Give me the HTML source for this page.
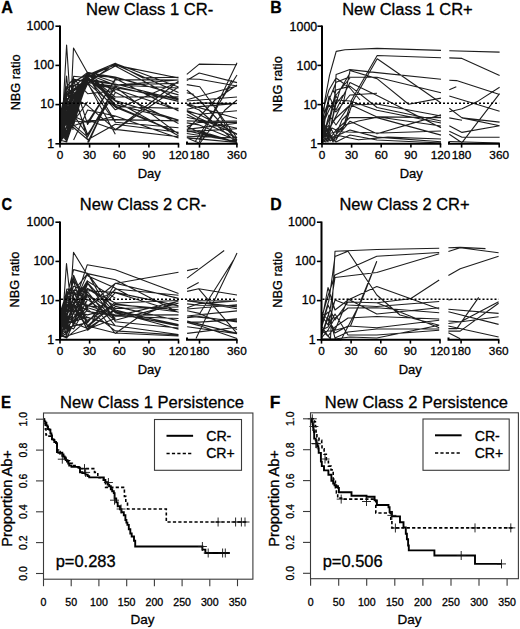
<!DOCTYPE html>
<html><head><meta charset="utf-8"><style>
html,body{margin:0;padding:0;background:#fff;overflow:hidden;}
svg{display:block;}
text{font-family:"Liberation Sans", sans-serif;stroke:#000;stroke-width:0.3px;}
</style></head><body>
<svg width="520" height="629" viewBox="0 0 520 629">
<rect width="520" height="629" fill="#fff"/>
<path d="M60.5,126.0 L66.8,138.6 L73.6,103.9 L87.6,74.2 L115.3,85.0 L178.5,83.2 M60.5,121.4 L73.6,114.5 L87.6,83.8 L115.3,122.2 L178.5,127.7 M60.5,112.5 L66.8,88.5 L87.6,72.4 L115.3,78.4 L178.5,111.0 M60.5,131.8 L66.8,123.4 L73.6,90.9 L87.6,139.8 L115.3,124.2 L178.5,132.2 M60.5,121.0 L73.6,97.8 L87.6,105.6 L115.3,129.4 L178.5,136.7 M60.5,140.2 L66.8,141.9 L73.6,79.2 L87.6,81.3 L115.3,66.1 L178.5,99.8 M60.5,135.5 L87.6,72.7 L115.3,104.6 L178.5,120.2 M60.5,117.9 L66.8,92.6 L73.6,81.6 L87.6,74.6 L115.3,97.0 L178.5,96.9 M60.5,139.4 L73.6,123.7 L87.6,73.2 L115.3,105.9 L178.5,132.9 M60.5,122.2 L87.6,79.0 L115.3,84.0 L178.5,99.9 M60.5,141.7 L66.8,118.3 L73.6,85.4 L87.6,82.9 L115.3,107.2 L178.5,133.1 M60.5,141.2 L73.6,125.3 L87.6,77.1 L115.3,64.4 L178.5,92.6 M60.5,133.8 L73.6,109.0 L87.6,74.1 L115.3,100.5 L178.5,120.1 M60.5,138.4 L66.8,101.3 L73.6,86.6 L87.6,75.2 L115.3,65.1 L178.5,78.0 M60.5,129.7 L73.6,125.8 L87.6,120.8 L115.3,119.6 L178.5,120.9 M60.5,112.6 L66.8,125.7 L73.6,76.2 L87.6,77.8 L115.3,109.8 L178.5,81.9 M60.5,128.9 L66.8,137.2 L73.6,115.1 L87.6,135.2 L115.3,87.0 L178.5,134.1 M60.5,124.9 L66.8,135.1 L73.6,110.6 L87.6,79.0 L115.3,101.0 L178.5,135.7 M60.5,139.3 L66.8,107.5 L73.6,108.1 L87.6,82.1 L115.3,89.3 L178.5,110.3 M60.5,126.9 L73.6,103.3 L87.6,83.0 L115.3,63.4 L178.5,87.1 M60.5,118.3 L73.6,112.6 L87.6,82.7 L115.3,86.3 L178.5,101.4 M60.5,137.0 L66.8,136.1 L73.6,108.2 L87.6,73.6 L115.3,92.3 L178.5,123.6 M60.5,141.5 L87.6,75.3 L115.3,77.5 L178.5,94.8 M60.5,121.8 L66.8,142.0 L73.6,79.3 L87.6,82.5 L115.3,87.8 L178.5,98.6 M60.5,136.5 L87.6,72.3 L115.3,106.8 L178.5,108.4 M60.5,131.5 L66.8,121.5 L73.6,121.0 L87.6,122.3 L115.3,79.6 L178.5,80.0 M60.5,126.6 L66.8,95.4 L87.6,80.4 L115.3,84.5 M60.5,135.4 L66.8,130.9 L73.6,80.0 L87.6,124.5 L115.3,78.9 M60.5,131.4 L66.8,106.9 L73.6,125.1 L87.6,136.9 L115.3,85.8 M60.5,118.4 L66.8,132.5 L73.6,115.9 L87.6,82.8 L115.3,134.2 M60.5,128.6 L66.8,103.6 L73.6,123.8 L87.6,73.0 L115.3,82.3 M60.5,135.8 L66.8,86.6 L73.6,78.7 L87.6,93.7 L115.3,90.6 M60.5,116.4 L73.6,116.2 L87.6,122.6 L115.3,116.2 M60.5,141.4 L87.6,75.5 L115.3,121.6 M60.5,128.2 L66.8,117.5 L73.6,96.7 L87.6,134.4 L115.3,92.8 M60.5,142.0 L66.8,118.2 L87.6,78.0 L115.3,99.0 M60.5,142.1 L66.8,108.2 L73.6,107.1 L87.6,80.3 M60.5,124.8 L66.8,138.6 L87.6,73.5 M60.5,139.9 L66.8,103.4 L87.6,83.1 M60.5,112.7 L87.6,75.9 M60.5,115.3 L66.8,92.1 L73.6,89.3 L87.6,78.4 M60.5,124.8 L66.8,94.3 L87.6,79.7 M60.5,131.0 L66.8,98.5 L73.6,121.2 L87.6,101.7 M60.5,118.8 L66.8,136.5 L87.6,80.7 M60.5,137.8 L66.8,130.8 L87.6,80.2 M60.5,133.2 L66.8,141.2 L87.6,81.1 M60.5,117.9 L87.6,78.6 M60.5,116.5 L87.6,139.5 M60.5,121.4 L66.8,116.9 L73.6,95.6 L87.6,81.2 M60.5,127.5 L66.8,105.7 L73.6,96.9 L87.6,77.2 M60.5,133.8 L66.8,95.3 L73.6,101.1 L87.6,82.1 M60.5,124.2 L66.8,105.4 L73.6,102.0 L87.6,76.9 M60.5,124.5 L66.8,98.8 L73.6,96.8 L87.6,72.2 M60.5,140.5 L66.8,113.4 L73.6,101.2 L87.6,82.3 M60.5,134.5 L66.8,104.3 L73.6,98.8 L87.6,78.1 M60.5,142.6 L66.8,113.5 L73.6,90.9 L87.6,82.9 M60.5,137.1 L66.8,112.9 L73.6,103.7 L87.6,76.9 M60.5,140.6 L66.8,115.2 L73.6,101.0 L87.6,81.2 M60.5,140.0 L63.5,100.0 L66.6,45.0 L69.9,95.0 L73.0,130.0 M60.5,138.0 L70.0,120.0 L73.5,48.0 L87.3,72.5 L115.3,77.0 L178.5,95.0 M60.5,142.0 L66.6,76.0 L70.0,110.0 M73.6,120.0 L87.6,75.0 L115.3,63.3 L143.0,77.9 L178.5,77.2 M87.6,142.5 L115.3,85.0 L178.5,80.0 M87.6,120.0 L115.3,130.0 L178.5,87.0 M73.6,140.0 L87.6,110.0 L115.3,116.0 L178.5,138.0 M115.2,130.0 L178.5,81.2 M88.5,142.5 L115.2,85.0 L178.5,88.0 M186.8,126.4 L199.2,132.2 L237.0,142.5 M186.8,130.6 L237.0,142.5 M186.8,138.0 L237.0,142.5 M186.8,120.9 L199.2,121.2 L237.0,121.0 M186.8,104.5 L199.2,102.9 L237.0,103.6 M186.8,131.6 L237.0,128.8 M186.8,126.2 L199.2,122.3 L237.0,122.4 M186.8,111.5 L199.2,114.2 L237.0,110.7 M186.8,114.4 L199.2,120.5 L237.0,138.1 M186.8,111.4 L199.2,118.2 L237.0,134.4 M186.8,136.2 L237.0,138.0 M186.8,109.2 L199.2,106.6 L237.0,103.4 M186.8,104.1 L237.0,118.5 M186.8,133.5 L237.0,141.3 M186.8,129.4 L237.0,123.2 M186.8,131.0 L199.2,130.9 L237.0,142.5 M186.8,117.2 L237.0,128.3 M186.8,110.5 L199.2,114.5 L237.0,134.0 M186.8,137.5 L237.0,142.5 M186.8,122.9 L199.2,124.9 L237.0,140.5 M186.8,74.4 L199.2,64.1 L237.0,64.8 M186.8,80.5 L199.2,73.0 L237.0,82.6 M186.8,79.0 L199.2,79.2 L237.0,86.0 M186.8,84.6 L199.8,86.7 L237.0,138.0 M199.2,142.0 L237.0,62.7 M195.0,142.0 L237.0,75.0 M199.2,140.0 L232.0,80.0 M186.8,99.7 L237.0,86.0 M186.8,101.0 L237.0,97.0 M186.8,92.8 L193.7,94.4 M186.8,105.0 L199.2,110.0 L237.0,143.0 M186.8,90.0 L199.2,100.0 L237.0,140.0 M187.0,130.0 L215.0,100.0 L237.0,85.0 M210.0,100.0 L236.5,143.0 M187.0,138.0 L199.7,143.3 L225.0,110.0 L237.0,100.0" fill="none" stroke="#1e1e1e" stroke-width="1.1" stroke-linejoin="round"/>
<line x1="61" y1="103.2" x2="236.9" y2="103.2" stroke="#000" stroke-width="1.4" stroke-dasharray="2 2"/>
<path d="M60,25.4 L60,143.8 M59,143.8 L179.2,143.8 M187,141.60000000000002 L187,143.8 L237.6,143.8" fill="none" stroke="#000" stroke-width="2"/>
<line x1="55.4" y1="143.8" x2="60" y2="143.8" stroke="#000" stroke-width="1.6"/>
<text x="54.10" y="147.50" font-size="12.4" text-anchor="end">1</text>
<line x1="55.4" y1="104.6" x2="60" y2="104.6" stroke="#000" stroke-width="1.6"/>
<text x="54.10" y="108.30" font-size="12.4" text-anchor="end">10</text>
<line x1="55.4" y1="65.4" x2="60" y2="65.4" stroke="#000" stroke-width="1.6"/>
<text x="54.10" y="69.10" font-size="12.4" text-anchor="end">100</text>
<line x1="55.4" y1="26.2" x2="60" y2="26.2" stroke="#000" stroke-width="1.6"/>
<text x="54.10" y="29.90" font-size="12.4" text-anchor="end">1000</text>
<line x1="60.0" y1="143.8" x2="60.0" y2="147.60000000000002" stroke="#000" stroke-width="1.6"/>
<text x="60.00" y="158.70" font-size="11.8" text-anchor="middle">0</text>
<line x1="89.6" y1="143.8" x2="89.6" y2="147.60000000000002" stroke="#000" stroke-width="1.6"/>
<text x="89.62" y="158.70" font-size="11.8" text-anchor="middle">30</text>
<line x1="119.2" y1="143.8" x2="119.2" y2="147.60000000000002" stroke="#000" stroke-width="1.6"/>
<text x="119.25" y="158.70" font-size="11.8" text-anchor="middle">60</text>
<line x1="148.9" y1="143.8" x2="148.9" y2="147.60000000000002" stroke="#000" stroke-width="1.6"/>
<text x="148.88" y="158.70" font-size="11.8" text-anchor="middle">90</text>
<line x1="178.5" y1="143.8" x2="178.5" y2="147.60000000000002" stroke="#000" stroke-width="1.6"/>
<text x="178.50" y="158.70" font-size="11.8" text-anchor="middle">120</text>
<line x1="199.5" y1="143.8" x2="199.5" y2="147.60000000000002" stroke="#000" stroke-width="1.6"/>
<text x="199.47" y="158.70" font-size="11.8" text-anchor="middle">180</text>
<line x1="236.9" y1="143.8" x2="236.9" y2="147.60000000000002" stroke="#000" stroke-width="1.6"/>
<text x="236.90" y="158.70" font-size="11.8" text-anchor="middle">360</text>
<text x="149.30" y="178.00" font-size="13" text-anchor="middle">Day</text>
<text x="19.80" y="110.34" font-size="12.7" textLength="55.88" lengthAdjust="spacingAndGlyphs" transform="rotate(-90 19.80 110.34)">NBG ratio</text>
<text x="1.20" y="13.10" font-size="17" font-weight="bold" textLength="11.62" lengthAdjust="spacingAndGlyphs" fill="#000">A</text>
<text x="85.94" y="14.70" font-size="16" textLength="127.29" lengthAdjust="spacingAndGlyphs" fill="#000">New Class 1 CR-</text>
<path d="M322.5,128.0 L324.9,100.0 L329.5,75.4 L333.8,60.0 L336.2,51.4 L345.0,49.7 L377.0,48.4 L441.0,50.4 M322.5,140.0 L336.0,140.0 L343.0,128.0 L351.6,100.0 L377.2,55.5 L441.0,57.8 M322.5,135.0 L336.0,132.0 L345.0,125.0 L353.5,100.0 L377.2,58.8 L441.0,103.0 M322.5,125.0 L329.0,110.0 L334.5,100.0 L336.1,74.6 L349.9,69.6 L377.0,72.6 L441.0,79.3 M322.5,118.0 L329.0,100.0 L336.1,82.3 L348.8,77.3 L377.0,77.3 L441.0,92.8 M322.5,142.0 L329.0,130.0 L344.0,100.0 L350.0,70.5 L377.0,78.6 L408.6,104.2 L441.0,98.1 M322.5,130.0 L329.0,96.0 L336.0,110.0 L350.0,82.5 L377.0,95.4 L441.0,127.7 M322.5,136.0 L329.0,120.0 L336.0,90.0 L350.0,86.1 L377.0,107.5 L441.0,121.0 M322.5,120.0 L329.0,135.0 L336.0,100.0 L350.0,101.0 L377.0,110.2 L441.0,123.0 M322.5,139.0 L329.0,115.0 L336.0,125.0 L350.0,104.6 L377.0,116.9 L441.0,117.6 M322.5,126.0 L329.0,140.0 L336.0,130.0 L350.0,117.5 L377.0,117.6 L441.0,135.1 M322.5,132.0 L329.0,125.0 L336.0,138.0 L350.0,121.2 L377.0,133.7 L441.0,114.9 M322.5,141.0 L329.0,138.0 L336.0,136.0 L350.0,130.0 L377.0,137.1 L441.0,141.8 M322.5,122.0 L329.0,105.0 L336.0,112.0 L350.0,95.0 L377.0,93.2 M322.5,137.0 L329.0,128.0 L336.0,118.0 L350.0,105.0 L377.0,104.0 L441.0,116.0 M322.5,112.0 L329.0,90.0 L336.0,78.0 L350.0,88.0 L360.0,100.0 M322.5,143.0 L329.0,136.0 L336.0,142.0 L350.0,135.0 L377.0,140.0 L441.0,143.0 M322.5,141.0 L326.0,142.0 L331.0,115.0 L336.0,95.0 L350.0,78.0 M322.5,134.0 L328.0,142.0 L334.0,110.0 L340.0,90.0 L350.0,73.0 M322.5,138.0 L325.0,120.0 L329.0,100.0 L333.0,90.0 L337.0,98.0 M322.5,129.0 L326.0,140.0 L332.0,128.0 L339.5,131.7 L381.3,133.0 L441.0,131.0 M322.5,131.0 L330.0,141.0 L339.5,135.8 L358.4,139.8 L388.0,137.1 L441.0,139.0 M322.5,124.0 L333.0,138.0 L345.0,125.0 L358.4,121.0 L378.6,117.0 L441.0,126.0 M322.5,140.0 L327.0,128.0 L333.0,142.0 L342.0,120.0 L350.0,112.0 M322.5,119.0 L326.0,135.0 L331.0,126.0 L336.0,104.0 L343.0,95.0 M449.3,50.7 L499.6,52.1 M449.3,57.9 L462.0,58.4 L499.6,75.4 M449.3,80.2 L456.5,80.6 L499.6,94.5 M449.3,89.7 L456.3,86.7 M449.3,111.8 L462.0,108.8 L478.4,100.9 L499.6,87.3 M449.3,96.0 L499.6,111.2 M449.3,108.2 L462.0,117.9 L499.6,125.8 M449.3,117.9 L462.0,120.3 M449.3,125.8 L462.0,132.4 L499.6,125.8 M449.3,131.2 L462.0,137.3 L499.6,137.3 M449.3,134.2 L462.0,142.7 L499.6,93.6 M449.3,141.5 L499.6,143.0 M462.0,117.9 L499.6,122.1" fill="none" stroke="#1e1e1e" stroke-width="1.1" stroke-linejoin="round"/>
<line x1="323" y1="103.2" x2="499.2" y2="103.2" stroke="#000" stroke-width="1.4" stroke-dasharray="2 2"/>
<path d="M322,25.4 L322,143.8 M321,143.8 L441.2,143.8 M449,141.60000000000002 L449,143.8 L499.9,143.8" fill="none" stroke="#000" stroke-width="2"/>
<line x1="317.4" y1="143.8" x2="322" y2="143.8" stroke="#000" stroke-width="1.6"/>
<text x="317.20" y="148.10" font-size="12.4" text-anchor="end">1</text>
<line x1="317.4" y1="104.6" x2="322" y2="104.6" stroke="#000" stroke-width="1.6"/>
<text x="317.20" y="108.90" font-size="12.4" text-anchor="end">10</text>
<line x1="317.4" y1="65.4" x2="322" y2="65.4" stroke="#000" stroke-width="1.6"/>
<text x="317.20" y="69.70" font-size="12.4" text-anchor="end">100</text>
<line x1="317.4" y1="26.2" x2="322" y2="26.2" stroke="#000" stroke-width="1.6"/>
<text x="317.20" y="30.50" font-size="12.4" text-anchor="end">1000</text>
<line x1="322.0" y1="143.8" x2="322.0" y2="147.60000000000002" stroke="#000" stroke-width="1.6"/>
<text x="322.00" y="158.70" font-size="11.8" text-anchor="middle">0</text>
<line x1="351.6" y1="143.8" x2="351.6" y2="147.60000000000002" stroke="#000" stroke-width="1.6"/>
<text x="351.62" y="158.70" font-size="11.8" text-anchor="middle">30</text>
<line x1="381.2" y1="143.8" x2="381.2" y2="147.60000000000002" stroke="#000" stroke-width="1.6"/>
<text x="381.25" y="158.70" font-size="11.8" text-anchor="middle">60</text>
<line x1="410.9" y1="143.8" x2="410.9" y2="147.60000000000002" stroke="#000" stroke-width="1.6"/>
<text x="410.88" y="158.70" font-size="11.8" text-anchor="middle">90</text>
<line x1="440.5" y1="143.8" x2="440.5" y2="147.60000000000002" stroke="#000" stroke-width="1.6"/>
<text x="440.50" y="158.70" font-size="11.8" text-anchor="middle">120</text>
<line x1="461.6" y1="143.8" x2="461.6" y2="147.60000000000002" stroke="#000" stroke-width="1.6"/>
<text x="461.55" y="158.70" font-size="11.8" text-anchor="middle">180</text>
<line x1="499.2" y1="143.8" x2="499.2" y2="147.60000000000002" stroke="#000" stroke-width="1.6"/>
<text x="499.20" y="158.70" font-size="11.8" text-anchor="middle">360</text>
<text x="411.30" y="178.00" font-size="13" text-anchor="middle">Day</text>
<text x="282.10" y="112.14" font-size="12.7" textLength="55.88" lengthAdjust="spacingAndGlyphs" transform="rotate(-90 282.10 112.14)">NBG ratio</text>
<text x="270.23" y="13.10" font-size="17" font-weight="bold" textLength="11.48" lengthAdjust="spacingAndGlyphs" fill="#000">B</text>
<text x="342.15" y="14.70" font-size="16" textLength="130.56" lengthAdjust="spacingAndGlyphs" fill="#000">New Class 1 CR+</text>
<path d="M60.5,336.7 L66.8,333.3 L87.6,305.3 L115.3,315.1 L178.5,314.9 M60.5,321.8 L73.6,269.6 L87.6,273.4 L115.3,311.2 L178.5,324.5 M60.5,319.1 L73.6,306.9 L87.6,309.4 L115.3,330.9 L178.5,335.0 M60.5,319.4 L66.8,321.0 L87.6,273.4 L115.3,321.8 L178.5,328.0 M60.5,327.9 L87.6,288.4 L115.3,303.0 L178.5,300.5 M60.5,309.2 L73.6,322.2 L87.6,288.8 L115.3,306.4 L178.5,320.8 M60.5,325.0 L87.6,317.4 L115.3,325.8 L178.5,334.5 M60.5,336.5 L66.8,336.1 L87.6,329.4 L115.3,283.2 L178.5,298.4 M60.5,329.3 L66.8,328.7 L73.6,303.5 L87.6,330.3 L115.3,308.5 L178.5,307.0 M60.5,314.0 L73.6,281.0 L87.6,326.8 L115.3,303.8 L178.5,312.0 M60.5,313.3 L66.8,329.1 L87.6,294.6 L115.3,312.0 L178.5,329.3 M60.5,333.2 L66.8,322.5 L73.6,313.7 L87.6,320.3 L115.3,304.6 L178.5,309.8 M60.5,331.9 L66.8,315.1 L73.6,275.2 L87.6,307.8 L115.3,316.1 L178.5,301.2 M60.5,337.5 L73.6,303.8 L87.6,282.8 L115.3,312.9 L178.5,325.9 M60.5,308.1 L66.8,327.6 L87.6,322.6 L115.3,289.0 L178.5,295.2 M60.5,321.1 L73.6,299.7 L87.6,311.4 L115.3,316.0 L178.5,318.5 M60.5,335.9 L73.6,325.0 L87.6,299.4 L115.3,320.2 L178.5,303.1 M60.5,317.9 L87.6,328.5 L115.3,310.0 L178.5,325.4 M60.5,322.8 L66.8,299.5 L87.6,273.6 L115.3,279.8 L178.5,312.6 M60.5,311.4 L66.8,292.4 L73.6,297.2 L87.6,322.1 L115.3,292.7 L178.5,312.3 M60.5,327.7 L73.6,286.2 L87.6,290.8 L115.3,292.4 L178.5,305.9 M60.5,320.3 L66.8,301.5 L87.6,325.7 L115.3,302.1 M60.5,338.3 L66.8,295.7 L87.6,306.5 L115.3,290.1 M60.5,322.5 L66.8,316.2 L73.6,322.2 L87.6,306.0 L115.3,307.8 M60.5,312.2 L73.6,281.6 L87.6,294.9 L115.3,318.3 M60.5,324.5 L66.8,309.1 L73.6,311.0 L87.6,314.9 L115.3,307.2 M60.5,335.5 L66.8,338.1 L87.6,291.9 L115.3,325.9 M60.5,309.2 L66.8,324.4 L73.6,303.3 L87.6,281.3 L115.3,298.1 M60.5,317.8 L66.8,329.6 L73.6,295.3 L87.6,283.5 L115.3,320.1 M60.5,321.8 L73.6,306.0 L87.6,329.0 L115.3,318.4 M60.5,321.3 L66.8,334.7 L73.6,311.6 L87.6,295.1 M60.5,320.1 L66.8,289.0 L87.6,292.6 M60.5,330.0 L66.8,300.5 L87.6,305.9 M60.5,323.9 L66.8,292.4 L87.6,297.8 M60.5,317.6 L66.8,325.8 L73.6,303.1 L87.6,280.4 M60.5,316.3 L73.6,304.0 L87.6,317.8 M60.5,308.7 L66.8,316.2 L73.6,278.1 L87.6,311.4 M60.5,311.5 L66.8,337.4 L87.6,320.1 M60.5,333.9 L66.8,325.6 L73.6,328.9 L87.6,304.4 M60.5,326.8 L66.8,304.1 L73.6,309.6 L87.6,320.7 M60.5,330.2 L66.8,333.0 L73.6,290.9 L87.6,309.1 M60.5,332.3 L66.8,294.4 L73.6,322.0 L87.6,283.9 M60.5,319.4 L66.8,293.9 L73.6,314.1 L87.6,282.4 M60.5,338.4 L66.8,291.0 L73.6,321.5 L87.6,310.2 M60.5,336.0 L63.5,306.0 L66.5,263.5 L70.0,296.0 L73.0,326.0 M60.5,338.0 L70.0,306.0 L73.5,252.3 L88.0,276.0 L113.5,287.3 L130.0,296.0 M73.6,306.0 L87.2,264.8 L115.2,269.8 L178.5,293.5 M87.6,306.0 L115.2,283.5 L178.5,272.3 M87.6,296.0 L115.2,333.5 L140.0,316.0 L178.5,301.0 M73.6,291.0 L87.6,326.0 L115.2,333.0 L178.5,336.0 M187.1,317.6 L199.2,316.5 L237.0,321.9 M187.1,300.2 L237.0,308.8 M187.1,321.1 L237.0,333.4 M187.1,326.7 L237.0,333.6 M187.1,309.0 L199.2,308.0 L237.0,304.7 M187.1,322.4 L199.2,325.6 L237.0,338.5 M187.1,303.9 L199.2,305.3 L237.0,305.5 M187.1,316.0 L237.0,310.9 M187.1,310.7 L199.2,313.4 L237.0,329.4 M187.1,333.4 L237.0,327.2 M187.1,300.9 L237.0,306.9 M187.1,322.7 L199.2,322.2 L237.0,318.7 M187.1,307.7 L199.2,303.6 L237.0,301.0 M187.1,300.7 L199.2,300.7 L237.0,301.0 M187.1,316.0 L237.0,321.1 M187.1,322.0 L199.2,322.1 L237.0,319.7 M187.1,278.1 L224.2,250.5 M187.1,270.6 L197.8,268.3 M196.0,338.6 L237.0,253.1 M199.6,313.7 L233.4,260.3 M187.1,288.8 L198.7,282.5 M187.1,291.4 L198.7,288.8 L237.0,295.0 M198.7,288.8 L237.0,333.3" fill="none" stroke="#1e1e1e" stroke-width="1.1" stroke-linejoin="round"/>
<line x1="61" y1="299.2" x2="236.9" y2="299.2" stroke="#000" stroke-width="1.4" stroke-dasharray="2 2"/>
<path d="M60,221.4 L60,339.8 M59,339.8 L179.2,339.8 M187,337.6 L187,339.8 L237.6,339.8" fill="none" stroke="#000" stroke-width="2"/>
<line x1="55.4" y1="339.8" x2="60" y2="339.8" stroke="#000" stroke-width="1.6"/>
<text x="54.10" y="343.50" font-size="12.4" text-anchor="end">1</text>
<line x1="55.4" y1="300.6" x2="60" y2="300.6" stroke="#000" stroke-width="1.6"/>
<text x="54.10" y="304.30" font-size="12.4" text-anchor="end">10</text>
<line x1="55.4" y1="261.4" x2="60" y2="261.4" stroke="#000" stroke-width="1.6"/>
<text x="54.10" y="265.10" font-size="12.4" text-anchor="end">100</text>
<line x1="55.4" y1="222.2" x2="60" y2="222.2" stroke="#000" stroke-width="1.6"/>
<text x="54.10" y="225.90" font-size="12.4" text-anchor="end">1000</text>
<line x1="60.0" y1="339.8" x2="60.0" y2="343.6" stroke="#000" stroke-width="1.6"/>
<text x="60.00" y="354.70" font-size="11.8" text-anchor="middle">0</text>
<line x1="89.6" y1="339.8" x2="89.6" y2="343.6" stroke="#000" stroke-width="1.6"/>
<text x="89.62" y="354.70" font-size="11.8" text-anchor="middle">30</text>
<line x1="119.2" y1="339.8" x2="119.2" y2="343.6" stroke="#000" stroke-width="1.6"/>
<text x="119.25" y="354.70" font-size="11.8" text-anchor="middle">60</text>
<line x1="148.9" y1="339.8" x2="148.9" y2="343.6" stroke="#000" stroke-width="1.6"/>
<text x="148.88" y="354.70" font-size="11.8" text-anchor="middle">90</text>
<line x1="178.5" y1="339.8" x2="178.5" y2="343.6" stroke="#000" stroke-width="1.6"/>
<text x="178.50" y="354.70" font-size="11.8" text-anchor="middle">120</text>
<line x1="199.5" y1="339.8" x2="199.5" y2="343.6" stroke="#000" stroke-width="1.6"/>
<text x="199.47" y="354.70" font-size="11.8" text-anchor="middle">180</text>
<line x1="236.9" y1="339.8" x2="236.9" y2="343.6" stroke="#000" stroke-width="1.6"/>
<text x="236.90" y="354.70" font-size="11.8" text-anchor="middle">360</text>
<text x="149.30" y="374.00" font-size="13" text-anchor="middle">Day</text>
<text x="19.30" y="307.44" font-size="12.7" textLength="55.88" lengthAdjust="spacingAndGlyphs" transform="rotate(-90 19.30 307.44)">NBG ratio</text>
<text x="1.60" y="209.60" font-size="17" font-weight="bold" textLength="10.60" lengthAdjust="spacingAndGlyphs" fill="#000">C</text>
<text x="79.85" y="209.80" font-size="16" textLength="126.27" lengthAdjust="spacingAndGlyphs" fill="#000">New Class 2 CR-</text>
<path d="M321.5,330.0 L330.5,338.5 L335.0,251.2 L376.8,249.5 L439.2,248.3 M321.5,325.0 L329.0,300.0 L335.0,256.5 L348.0,251.3 L376.8,295.0 L400.0,315.0 L439.2,325.2 M321.5,318.0 L328.0,296.0 L335.0,275.0 L376.8,256.2 L439.2,252.5 M321.5,335.0 L330.0,310.0 L335.0,277.5 L376.8,272.5 L439.2,253.8 M321.5,332.0 L336.0,330.0 L350.5,326.0 L376.8,261.2 M321.5,322.0 L328.0,287.5 L335.0,310.0 L348.0,300.0 L376.8,286.5 L439.2,309.0 M321.5,328.0 L328.0,305.0 L335.0,320.0 L348.0,302.0 L376.8,302.7 L439.2,327.7 M321.5,315.0 L328.0,325.0 L335.0,300.0 L348.0,305.0 L376.8,306.5 L439.2,301.5 M321.5,338.0 L328.0,330.0 L335.0,318.0 L348.0,308.0 L376.8,307.7 L439.2,312.7 M321.5,312.0 L328.0,320.0 L335.0,330.0 L348.0,299.0 L376.8,314.0 L439.2,307.7 M321.5,326.0 L328.0,336.0 L335.0,327.0 L348.0,318.0 L376.8,316.5 L439.2,319.0 M321.5,336.0 L328.0,318.0 L335.0,333.0 L348.0,326.0 L376.8,327.7 L439.2,320.2 M321.5,320.0 L328.0,312.0 L335.0,338.0 L348.0,332.0 L376.8,329.0 L439.2,329.0 M321.5,330.0 L328.0,327.0 L335.0,314.0 L348.0,335.0 L376.8,335.0 L439.2,330.2 M321.5,339.0 L335.0,339.0 L350.0,337.0 L376.8,338.0 L439.2,325.2 M376.8,302.7 L410.5,298.7 L439.2,280.0 M321.5,340.0 L341.0,340.0 L361.8,300.0 L376.8,261.2 M448.4,251.5 L460.2,247.8 L498.6,252.8 M448.4,247.8 L460.2,247.4 L485.5,248.6 M448.4,275.6 L460.2,268.8 L498.6,256.2 M448.4,300.0 L452.0,299.5 M448.4,309.2 L498.6,313.4 M448.4,311.8 L498.6,324.4 M448.4,321.0 L460.2,321.9 L498.6,301.7 M448.4,323.5 L498.6,316.8 M448.4,328.6 L456.8,328.6 L478.7,297.4 M448.4,331.1 L460.2,331.1 L498.6,303.3 M448.4,326.0 L498.6,337.0 M448.4,332.8 L460.2,338.7" fill="none" stroke="#1e1e1e" stroke-width="1.1" stroke-linejoin="round"/>
<line x1="322.5" y1="299.2" x2="498.7" y2="299.2" stroke="#000" stroke-width="1.4" stroke-dasharray="2 2"/>
<path d="M321.5,221.4 L321.5,339.8 M320.5,339.8 L440.7,339.8 M448.5,337.6 L448.5,339.8 L499.4,339.8" fill="none" stroke="#000" stroke-width="2"/>
<line x1="316.9" y1="339.8" x2="321.5" y2="339.8" stroke="#000" stroke-width="1.6"/>
<text x="315.60" y="343.50" font-size="12.4" text-anchor="end">1</text>
<line x1="316.9" y1="300.6" x2="321.5" y2="300.6" stroke="#000" stroke-width="1.6"/>
<text x="315.60" y="304.30" font-size="12.4" text-anchor="end">10</text>
<line x1="316.9" y1="261.4" x2="321.5" y2="261.4" stroke="#000" stroke-width="1.6"/>
<text x="315.60" y="265.10" font-size="12.4" text-anchor="end">100</text>
<line x1="316.9" y1="222.2" x2="321.5" y2="222.2" stroke="#000" stroke-width="1.6"/>
<text x="315.60" y="225.90" font-size="12.4" text-anchor="end">1000</text>
<line x1="321.5" y1="339.8" x2="321.5" y2="343.6" stroke="#000" stroke-width="1.6"/>
<text x="321.50" y="354.70" font-size="11.8" text-anchor="middle">0</text>
<line x1="351.1" y1="339.8" x2="351.1" y2="343.6" stroke="#000" stroke-width="1.6"/>
<text x="351.12" y="354.70" font-size="11.8" text-anchor="middle">30</text>
<line x1="380.8" y1="339.8" x2="380.8" y2="343.6" stroke="#000" stroke-width="1.6"/>
<text x="380.75" y="354.70" font-size="11.8" text-anchor="middle">60</text>
<line x1="410.4" y1="339.8" x2="410.4" y2="343.6" stroke="#000" stroke-width="1.6"/>
<text x="410.38" y="354.70" font-size="11.8" text-anchor="middle">90</text>
<line x1="440.0" y1="339.8" x2="440.0" y2="343.6" stroke="#000" stroke-width="1.6"/>
<text x="440.00" y="354.70" font-size="11.8" text-anchor="middle">120</text>
<line x1="461.1" y1="339.8" x2="461.1" y2="343.6" stroke="#000" stroke-width="1.6"/>
<text x="461.05" y="354.70" font-size="11.8" text-anchor="middle">180</text>
<line x1="498.7" y1="339.8" x2="498.7" y2="343.6" stroke="#000" stroke-width="1.6"/>
<text x="498.70" y="354.70" font-size="11.8" text-anchor="middle">360</text>
<text x="410.20" y="374.00" font-size="13" text-anchor="middle">Day</text>
<text x="282.10" y="307.64" font-size="12.7" textLength="55.88" lengthAdjust="spacingAndGlyphs" transform="rotate(-90 282.10 307.64)">NBG ratio</text>
<text x="270.24" y="209.60" font-size="17" font-weight="bold" textLength="11.43" lengthAdjust="spacingAndGlyphs" fill="#000">D</text>
<text x="339.45" y="209.80" font-size="16" textLength="130.15" lengthAdjust="spacingAndGlyphs" fill="#000">New Class 2 CR+</text>
<path d="M43.5,419.2 L44.3,419.2 L44.3,423.8 L45.3,423.8 L45.3,428.9 L46.0,428.9 L46.0,434.9 L49.0,434.9 L49.0,436.2 L51.8,436.2 L51.8,439.3 L54.6,439.3 L54.6,442.3 L57.0,442.3 L57.0,450.1 L58.5,450.1 L58.5,451.6 L60.1,451.6 L60.1,453.9 L62.3,453.9 L62.3,456.2 L65.7,456.2 L65.7,458.5 L67.9,458.5 L67.9,460.9 L69.6,460.9 L69.6,463.2 L72.3,463.2 L72.3,465.5 L75.1,465.5 L75.1,467.0 L80.1,467.0 L80.1,468.6 L94.5,468.6 L94.5,472.4 L97.8,472.4 L97.8,477.8 L103.4,477.8 L103.4,480.1 L105.6,480.1 L105.6,487.4 L124.4,487.4 L124.4,496.4 L125.8,496.4 L125.8,502.5 L127.5,502.5 L127.5,509.0 L166.3,509.0 L166.3,522.0 L247.0,522.0" fill="none" stroke="#000" stroke-width="1.6" stroke-dasharray="3.2 2.2"/>
<path d="M43.5,419.2 L44.3,419.2 L44.3,421.4 L45.3,421.4 L45.3,422.7 L46.4,422.7 L46.4,425.4 L47.4,425.4 L47.4,426.6 L48.0,426.6 L48.0,429.1 L49.4,429.1 L49.4,429.7 L50.4,429.7 L50.4,433.4 L51.4,433.4 L51.4,435.4 L52.0,435.4 L52.0,439.4 L53.7,439.4 L53.7,440.0 L54.4,440.0 L54.4,442.0 L56.0,442.0 L56.0,443.1 L57.0,443.1 L57.0,452.1 L58.4,452.1 L58.4,452.8 L62.3,452.8 L62.3,454.5 L63.5,454.5 L63.5,456.5 L64.6,456.5 L64.6,458.5 L65.7,458.5 L65.7,460.1 L66.9,460.1 L66.9,461.5 L68.2,461.5 L68.2,463.5 L69.2,463.5 L69.2,465.5 L71.5,465.5 L71.5,466.9 L78.5,466.9 L78.5,467.7 L80.0,467.7 L80.0,472.3 L82.3,472.3 L82.3,473.1 L85.4,473.1 L85.4,474.6 L87.7,474.6 L87.7,476.1 L89.2,476.1 L89.2,477.4 L103.8,477.4 L103.8,480.0 L105.4,480.0 L105.4,482.3 L107.7,482.3 L107.7,484.6 L109.2,484.6 L109.2,486.2 L110.8,486.2 L110.8,489.3 L112.2,489.3 L112.2,491.3 L113.8,491.3 L113.8,493.1 L114.6,493.1 L114.6,498.5 L116.2,498.5 L116.2,502.4 L117.7,502.4 L117.7,506.2 L120.0,506.2 L120.0,509.2 L121.5,509.2 L121.5,512.2 L123.8,512.2 L123.8,515.3 L125.4,515.3 L125.4,520.0 L126.4,520.0 L126.4,522.6 L127.4,522.6 L127.4,524.9 L128.8,524.9 L128.8,529.2 L130.3,529.2 L130.3,533.5 L131.7,533.5 L131.7,536.5 L134.0,536.5 L134.0,540.8 L135.2,540.8 L135.2,546.5 L202.4,546.5 L202.4,549.6 L205.4,549.6 L205.4,553.0 L229.8,553.0" fill="none" stroke="#000" stroke-width="1.9"/>
<path d="M197.9,546.5 H206.9 M202.4,542.0 V551.0" stroke="#111" stroke-width="0.9"/>
<path d="M203.7,553.0 H212.7 M208.2,548.5 V557.5" stroke="#111" stroke-width="0.9"/>
<path d="M218.1,553.0 H227.1 M222.6,548.5 V557.5" stroke="#111" stroke-width="0.9"/>
<path d="M220.8,553.0 H229.8 M225.3,548.5 V557.5" stroke="#111" stroke-width="0.9"/>
<path d="M57.8,459.2 H66.8 M62.3,454.7 V463.7" stroke="#111" stroke-width="0.9"/>
<path d="M110.0,500.2 H119.0 M114.5,495.7 V504.7" stroke="#111" stroke-width="0.9"/>
<path d="M213.6,522.0 H222.6 M218.1,517.5 V526.5" stroke="#111" stroke-width="0.9"/>
<path d="M231.1,522.0 H240.1 M235.6,517.5 V526.5" stroke="#111" stroke-width="0.9"/>
<path d="M236.9,522.0 H245.9 M241.4,517.5 V526.5" stroke="#111" stroke-width="0.9"/>
<path d="M240.5,522.0 H249.5 M245.0,517.5 V526.5" stroke="#111" stroke-width="0.9"/>
<path d="M80.0,468.6 H89.0 M84.5,464.1 V473.1" stroke="#111" stroke-width="0.9"/>
<path d="M81.1,472.4 H90.1 M85.6,467.9 V476.9" stroke="#111" stroke-width="0.9"/>
<path d="M103.9,482.5 H112.9 M108.4,478.0 V487.0" stroke="#111" stroke-width="0.9"/>
<path d="M116.6,509.0 H125.6 M121.1,504.5 V513.5" stroke="#111" stroke-width="0.9"/>
<rect x="43.5" y="413" width="209.4" height="166.2" fill="none" stroke="#3a3a3a" stroke-width="1.1"/>
<line x1="36.0" y1="573.5" x2="43.5" y2="573.5" stroke="#3a3a3a" stroke-width="1.1"/>
<text x="27.10" y="573.50" font-size="10.5" text-anchor="middle" transform="rotate(-90 27.10 573.50)">0.0</text>
<line x1="36.0" y1="542.6" x2="43.5" y2="542.6" stroke="#3a3a3a" stroke-width="1.1"/>
<text x="27.10" y="542.64" font-size="10.5" text-anchor="middle" transform="rotate(-90 27.10 542.64)">0.2</text>
<line x1="36.0" y1="511.8" x2="43.5" y2="511.8" stroke="#3a3a3a" stroke-width="1.1"/>
<text x="27.10" y="511.78" font-size="10.5" text-anchor="middle" transform="rotate(-90 27.10 511.78)">0.4</text>
<line x1="36.0" y1="480.9" x2="43.5" y2="480.9" stroke="#3a3a3a" stroke-width="1.1"/>
<text x="27.10" y="480.92" font-size="10.5" text-anchor="middle" transform="rotate(-90 27.10 480.92)">0.6</text>
<line x1="36.0" y1="450.1" x2="43.5" y2="450.1" stroke="#3a3a3a" stroke-width="1.1"/>
<text x="27.10" y="450.06" font-size="10.5" text-anchor="middle" transform="rotate(-90 27.10 450.06)">0.8</text>
<line x1="36.0" y1="419.2" x2="43.5" y2="419.2" stroke="#3a3a3a" stroke-width="1.1"/>
<text x="27.10" y="419.20" font-size="10.5" text-anchor="middle" transform="rotate(-90 27.10 419.20)">1.0</text>
<line x1="43.5" y1="579.2" x2="43.5" y2="586.2" stroke="#3a3a3a" stroke-width="1.1"/>
<text x="43.50" y="605.90" font-size="10.6" text-anchor="middle">0</text>
<line x1="71.2" y1="579.2" x2="71.2" y2="586.2" stroke="#3a3a3a" stroke-width="1.1"/>
<text x="71.22" y="605.90" font-size="10.6" text-anchor="middle">50</text>
<line x1="98.9" y1="579.2" x2="98.9" y2="586.2" stroke="#3a3a3a" stroke-width="1.1"/>
<text x="98.94" y="605.90" font-size="10.6" text-anchor="middle">100</text>
<line x1="126.7" y1="579.2" x2="126.7" y2="586.2" stroke="#3a3a3a" stroke-width="1.1"/>
<text x="126.66" y="605.90" font-size="10.6" text-anchor="middle">150</text>
<line x1="154.4" y1="579.2" x2="154.4" y2="586.2" stroke="#3a3a3a" stroke-width="1.1"/>
<text x="154.38" y="605.90" font-size="10.6" text-anchor="middle">200</text>
<line x1="182.1" y1="579.2" x2="182.1" y2="586.2" stroke="#3a3a3a" stroke-width="1.1"/>
<text x="182.10" y="605.90" font-size="10.6" text-anchor="middle">250</text>
<line x1="209.8" y1="579.2" x2="209.8" y2="586.2" stroke="#3a3a3a" stroke-width="1.1"/>
<text x="209.82" y="605.90" font-size="10.6" text-anchor="middle">300</text>
<line x1="237.5" y1="579.2" x2="237.5" y2="586.2" stroke="#3a3a3a" stroke-width="1.1"/>
<text x="237.54" y="605.90" font-size="10.6" text-anchor="middle">350</text>
<text x="142.60" y="624.10" font-size="13.5" text-anchor="middle">Day</text>
<text x="11.60" y="546.79" font-size="14" textLength="96.60" lengthAdjust="spacingAndGlyphs" transform="rotate(-90 11.60 546.79)">Proportion Ab+</text>
<text x="0.90" y="407.70" font-size="17" font-weight="bold" textLength="9.99" lengthAdjust="spacingAndGlyphs" fill="#000">E</text>
<text x="60.04" y="407.50" font-size="16" textLength="183.99" lengthAdjust="spacingAndGlyphs" fill="#000">New Class 1 Persistence</text>
<rect x="154.5" y="419.5" width="87.0" height="50.80000000000001" fill="#fff" stroke="#3a3a3a" stroke-width="1.1"/>
<line x1="166.5" y1="435.8" x2="193.1" y2="435.8" stroke="#000" stroke-width="2"/>
<line x1="166.5" y1="453.5" x2="193.1" y2="453.5" stroke="#000" stroke-width="1.6" stroke-dasharray="3.2 2.2"/>
<text x="206.18" y="441.30" font-size="13.8" textLength="25.15" lengthAdjust="spacingAndGlyphs" fill="#000">CR-</text>
<text x="206.18" y="458.10" font-size="13.8" textLength="28.51" lengthAdjust="spacingAndGlyphs" fill="#000">CR+</text>
<text x="55.73" y="566.70" font-size="16" textLength="59.90" lengthAdjust="spacingAndGlyphs" fill="#000">p=0.283</text>
<path d="M310.6,418.8 L314.5,418.8 L314.5,421.9 L315.4,421.9 L315.4,426.5 L316.0,426.5 L316.0,431.9 L316.9,431.9 L316.9,436.9 L319.0,436.9 L319.0,440.4 L321.7,440.4 L321.7,444.1 L322.0,444.1 L322.0,448.8 L324.1,448.8 L324.1,454.3 L326.3,454.3 L326.3,459.7 L328.4,459.7 L328.4,466.1 L331.0,466.1 L331.0,469.9 L333.2,469.9 L333.2,479.1 L335.4,479.1 L335.4,487.7 L336.4,487.7 L336.4,493.0 L337.7,493.0 L337.7,498.1 L341.5,498.1 L341.5,499.1 L375.8,499.1 L375.8,513.0 L390.8,513.0 L390.8,520.0 L391.9,520.0 L391.9,527.9 L513.1,527.9" fill="none" stroke="#000" stroke-width="1.6" stroke-dasharray="3.2 2.2"/>
<path d="M310.6,418.8 L311.7,418.8 L311.7,421.7 L312.6,421.7 L312.6,424.1 L312.9,424.1 L312.9,426.5 L313.3,426.5 L313.3,430.1 L313.9,430.1 L313.9,431.9 L314.2,431.9 L314.2,438.6 L315.7,438.6 L315.7,440.4 L316.6,440.4 L316.6,443.4 L317.5,443.4 L317.5,446.3 L318.3,446.3 L318.3,448.5 L318.7,448.5 L318.7,452.9 L320.9,452.9 L320.9,461.6 L321.8,461.6 L321.8,466.1 L324.0,466.1 L324.0,470.4 L328.4,470.4 L328.4,474.7 L331.4,474.7 L331.4,480.9 L333.2,480.9 L333.2,483.5 L334.5,483.5 L334.5,485.2 L336.3,485.2 L336.3,486.2 L338.0,486.2 L338.0,487.9 L338.9,487.9 L338.9,492.2 L351.5,492.2 L351.5,495.7 L366.5,495.7 L366.5,496.8 L374.6,496.8 L374.6,500.4 L376.9,500.4 L376.9,505.0 L388.5,505.0 L388.5,507.3 L389.6,507.3 L389.6,512.0 L391.9,512.0 L391.9,516.4 L400.0,516.4 L400.0,522.3 L403.5,522.3 L403.5,527.4 L405.8,527.4 L405.8,533.7 L406.9,533.7 L406.9,539.3 L408.1,539.3 L408.1,545.5 L408.8,545.5 L408.8,550.4 L434.4,550.4 L434.4,555.5 L475.0,555.5 L475.0,563.9 L501.5,563.9" fill="none" stroke="#000" stroke-width="1.9"/>
<path d="M456.7,555.5 H465.7 M461.2,551.0 V560.0" stroke="#111" stroke-width="0.9"/>
<path d="M497.0,563.9 H506.0 M501.5,559.4 V568.4" stroke="#111" stroke-width="0.9"/>
<path d="M307.8,418.8 H316.8 M312.3,414.3 V423.3" stroke="#111" stroke-width="0.9"/>
<path d="M309.4,426.5 H318.4 M313.9,422.0 V431.0" stroke="#111" stroke-width="0.9"/>
<path d="M311.9,443.8 H320.9 M316.4,439.3 V448.3" stroke="#111" stroke-width="0.9"/>
<path d="M362.0,501.5 H371.0 M366.5,497.0 V506.0" stroke="#111" stroke-width="0.9"/>
<path d="M470.5,527.9 H479.5 M475.0,523.4 V532.4" stroke="#111" stroke-width="0.9"/>
<path d="M506.3,527.9 H515.3 M510.8,523.4 V532.4" stroke="#111" stroke-width="0.9"/>
<path d="M311.3,443.5 H320.3 M315.8,439.0 V448.0" stroke="#111" stroke-width="0.9"/>
<path d="M320.5,459.0 H329.5 M325.0,454.5 V463.5" stroke="#111" stroke-width="0.9"/>
<path d="M336.7,499.1 H345.7 M341.2,494.6 V503.6" stroke="#111" stroke-width="0.9"/>
<path d="M387.4,515.4 H396.4 M391.9,510.9 V519.9" stroke="#111" stroke-width="0.9"/>
<path d="M390.9,528.0 H399.9 M395.4,523.5 V532.5" stroke="#111" stroke-width="0.9"/>
<rect x="310.5" y="412.8" width="207.9" height="165.9" fill="none" stroke="#3a3a3a" stroke-width="1.1"/>
<line x1="303.0" y1="573.3" x2="310.5" y2="573.3" stroke="#3a3a3a" stroke-width="1.1"/>
<text x="294.10" y="573.30" font-size="10.5" text-anchor="middle" transform="rotate(-90 294.10 573.30)">0.0</text>
<line x1="303.0" y1="542.4" x2="310.5" y2="542.4" stroke="#3a3a3a" stroke-width="1.1"/>
<text x="294.10" y="542.40" font-size="10.5" text-anchor="middle" transform="rotate(-90 294.10 542.40)">0.2</text>
<line x1="303.0" y1="511.5" x2="310.5" y2="511.5" stroke="#3a3a3a" stroke-width="1.1"/>
<text x="294.10" y="511.50" font-size="10.5" text-anchor="middle" transform="rotate(-90 294.10 511.50)">0.4</text>
<line x1="303.0" y1="480.6" x2="310.5" y2="480.6" stroke="#3a3a3a" stroke-width="1.1"/>
<text x="294.10" y="480.60" font-size="10.5" text-anchor="middle" transform="rotate(-90 294.10 480.60)">0.6</text>
<line x1="303.0" y1="449.7" x2="310.5" y2="449.7" stroke="#3a3a3a" stroke-width="1.1"/>
<text x="294.10" y="449.70" font-size="10.5" text-anchor="middle" transform="rotate(-90 294.10 449.70)">0.8</text>
<line x1="303.0" y1="418.8" x2="310.5" y2="418.8" stroke="#3a3a3a" stroke-width="1.1"/>
<text x="294.10" y="418.80" font-size="10.5" text-anchor="middle" transform="rotate(-90 294.10 418.80)">1.0</text>
<line x1="310.6" y1="578.7" x2="310.6" y2="585.7" stroke="#3a3a3a" stroke-width="1.1"/>
<text x="310.60" y="605.90" font-size="10.6" text-anchor="middle">0</text>
<line x1="338.7" y1="578.7" x2="338.7" y2="585.7" stroke="#3a3a3a" stroke-width="1.1"/>
<text x="338.67" y="605.90" font-size="10.6" text-anchor="middle">50</text>
<line x1="366.7" y1="578.7" x2="366.7" y2="585.7" stroke="#3a3a3a" stroke-width="1.1"/>
<text x="366.74" y="605.90" font-size="10.6" text-anchor="middle">100</text>
<line x1="394.8" y1="578.7" x2="394.8" y2="585.7" stroke="#3a3a3a" stroke-width="1.1"/>
<text x="394.81" y="605.90" font-size="10.6" text-anchor="middle">150</text>
<line x1="422.9" y1="578.7" x2="422.9" y2="585.7" stroke="#3a3a3a" stroke-width="1.1"/>
<text x="422.88" y="605.90" font-size="10.6" text-anchor="middle">200</text>
<line x1="451.0" y1="578.7" x2="451.0" y2="585.7" stroke="#3a3a3a" stroke-width="1.1"/>
<text x="450.95" y="605.90" font-size="10.6" text-anchor="middle">250</text>
<line x1="479.0" y1="578.7" x2="479.0" y2="585.7" stroke="#3a3a3a" stroke-width="1.1"/>
<text x="479.02" y="605.90" font-size="10.6" text-anchor="middle">300</text>
<line x1="507.1" y1="578.7" x2="507.1" y2="585.7" stroke="#3a3a3a" stroke-width="1.1"/>
<text x="507.09" y="605.90" font-size="10.6" text-anchor="middle">350</text>
<text x="409.60" y="624.10" font-size="13.5" text-anchor="middle">Day</text>
<text x="278.60" y="546.79" font-size="14" textLength="96.60" lengthAdjust="spacingAndGlyphs" transform="rotate(-90 278.60 546.79)">Proportion Ab+</text>
<text x="269.84" y="407.70" font-size="17" font-weight="bold" textLength="10.60" lengthAdjust="spacingAndGlyphs" fill="#000">F</text>
<text x="324.85" y="407.50" font-size="16" textLength="183.18" lengthAdjust="spacingAndGlyphs" fill="#000">New Class 2 Persistence</text>
<rect x="423" y="419" width="86.19999999999999" height="51.30000000000001" fill="#fff" stroke="#3a3a3a" stroke-width="1.1"/>
<line x1="435" y1="435.3" x2="461.6" y2="435.3" stroke="#000" stroke-width="2"/>
<line x1="435" y1="453" x2="461.6" y2="453" stroke="#000" stroke-width="1.6" stroke-dasharray="3.2 2.2"/>
<text x="474.68" y="440.80" font-size="13.8" textLength="25.15" lengthAdjust="spacingAndGlyphs" fill="#000">CR-</text>
<text x="474.68" y="457.60" font-size="13.8" textLength="28.51" lengthAdjust="spacingAndGlyphs" fill="#000">CR+</text>
<text x="322.73" y="566.70" font-size="16" textLength="59.90" lengthAdjust="spacingAndGlyphs" fill="#000">p=0.506</text>
</svg></body></html>
